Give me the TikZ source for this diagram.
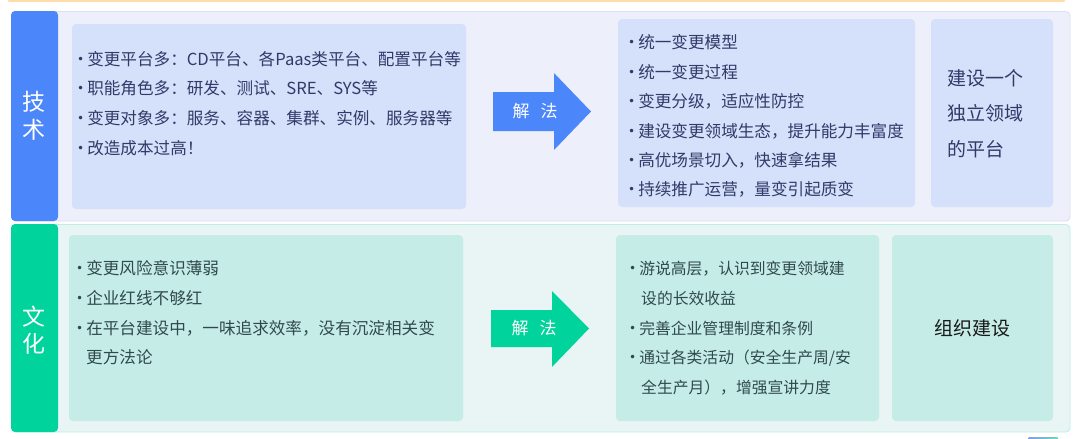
\documentclass[tikz,border=0pt]{standalone}
\usepackage{fontspec}
\setmainfont{Noto Sans CJK SC}
\newfontfamily\dvs{DejaVu Sans}
\definecolor{tabblue}{HTML}{4B86FB}
\definecolor{topbg}{HTML}{EDF0FA}
\definecolor{topborder}{HTML}{D6DFF7}
\definecolor{topbox}{HTML}{D5E0FA}
\definecolor{navytext}{HTML}{2F3B69}
\definecolor{tabgreen}{HTML}{00D39B}
\definecolor{botbg}{HTML}{E8F5F4}
\definecolor{botborder}{HTML}{BDEFE2}
\definecolor{botbox}{HTML}{C6ECE8}
\definecolor{tealtext}{HTML}{2F4A4C}
\definecolor{orangeline}{HTML}{FFDCA8}
\newcommand{\bul}{\raisebox{1.2pt}{\dvs\fontsize{12}{12}\selectfont •}\hspace{3pt}}
\tikzset{
  panel/.style={rounded corners=4pt, line width=0.8pt},
  innerbox/.style={rounded corners=4pt},
  itemline/.style={anchor=west, inner sep=0pt, font=\fontsize{16.6}{16.6}\selectfont, text height=14pt, text depth=2pt},
  itemsmall/.style={anchor=west, inner sep=0pt, font=\fontsize{15.8}{15.8}\selectfont, text height=14pt, text depth=2pt},
  tabtext/.style={inner sep=0pt, text=white, font=\fontsize{23}{23}\selectfont},
  bigtext/.style={inner sep=0pt, font=\fontsize{19}{19}\selectfont},
  arrowtext/.style={inner sep=0pt, text=white, font=\fontsize{17}{17}\selectfont}
}
\begin{document}
\begin{tikzpicture}[x=1pt,y=-1pt]
\useasboundingbox (0,0) rectangle (1080,439);
\fill[white] (0,0) rectangle (1080,439);
% top orange strip
\fill[orangeline, rounded corners=1pt] (8,-2) rectangle (1065,1.8);
% bottom cut-off blob
\fill[left color=tabblue!80, right color=tabgreen!60, rounded corners=1pt] (1028,437.5) rectangle (1058,441);

% ===== top section =====
\draw[panel, fill=topbg, draw=topborder] (12,11.5) rectangle (1070,221);
\fill[tabblue, rounded corners=4pt] (11,11) rectangle (58,221);
\node[tabtext] (t1) at (34,102) {技};
\node[tabtext] (t2) at (34,130) {术};

\fill[innerbox, topbox] (72,24) rectangle (466,209);
\fill[innerbox, topbox] (618,19) rectangle (915,207);
\fill[innerbox, topbox] (931,19) rectangle (1053,207);

\begin{scope}[every node/.style={itemline, text=navytext}]
\node (a1) at (77,59) {\bul 变更平台多：CD平台、各Paas类平台、配置平台等};
\node (a2) at (77,88) {\bul 职能角色多：研发、测试、SRE、SYS等};
\node (a3) at (77,118) {\bul 变更对象多：服务、容器、集群、实例、服务器等};
\node (a4) at (77,148) {\bul 改造成本过高！};

\node (b1) at (628,42) {\bul 统一变更模型};
\node (b2) at (628,72) {\bul 统一变更过程};
\node (b3) at (628,101) {\bul 变更分级，适应性防控};
\node (b4) at (628,131) {\bul 建设变更领域生态，提升能力丰富度};
\node (b5) at (628,160) {\bul 高优场景切入，快速拿结果};
\node (b6) at (628,189) {\bul 持续推广运营，量变引起质变};
\end{scope}
\node[bigtext, text=navytext, anchor=west] (c1) at (947,78) {建设一个};
\node[bigtext, text=navytext, anchor=west] (c2) at (947,113) {独立领域};
\node[bigtext, text=navytext, anchor=west] (c3) at (947,149) {的平台};

% top arrow
\fill[tabblue] (493,92) -- (554,92) -- (554,73) -- (591,111.5) -- (554,150) -- (554,131) -- (493,131) -- cycle;
\node[arrowtext] (s1) at (535,111) {解\hspace{11pt}法};

% ===== bottom section =====
\draw[panel, fill=botbg, draw=botborder] (12,224.5) rectangle (1070,432);
\fill[tabgreen, rounded corners=4pt] (11,224) rectangle (58,432);
\node[tabtext] (t3) at (34,317) {文};
\node[tabtext] (t4) at (34,344) {化};

\fill[innerbox, botbox] (69,235) rectangle (463,421);
\fill[innerbox, botbox] (616,235) rectangle (879,421);
\fill[innerbox, botbox] (892,235) rectangle (1053,421);

\begin{scope}[every node/.style={itemline, text=tealtext}]
\node (d1) at (76,268) {\bul 变更风险意识薄弱};
\node (d2) at (76,298) {\bul 企业红线不够红};
\node (d3) at (76,328) {\bul 在平台建设中，一味追求效率，没有沉淀相关变};
\node (d4) at (86,357) {更方法论};
\end{scope}
\begin{scope}[every node/.style={itemsmall, text=tealtext}]
\node (e1) at (629,268) {\bul 游说高层，认识到变更领域建};
\node (e2) at (641,298) {设的长效收益};
\node (e3) at (629,328) {\bul 完善企业管理制度和条例};
\node (e4) at (629,357) {\bul 通过各类活动（安全生产周/安};
\node (e5) at (641,387) {全生产月），增强宣讲力度};
\end{scope}
\node[bigtext, text=black!90] (f1) at (972,328) {组织建设};

% bottom arrow
\fill[tabgreen] (491,310) -- (552,310) -- (552,291) -- (589,328.5) -- (552,367) -- (552,347) -- (491,347) -- cycle;
\node[arrowtext] (s2) at (534,328) {解\hspace{11pt}法};
\end{tikzpicture}
\end{document}
